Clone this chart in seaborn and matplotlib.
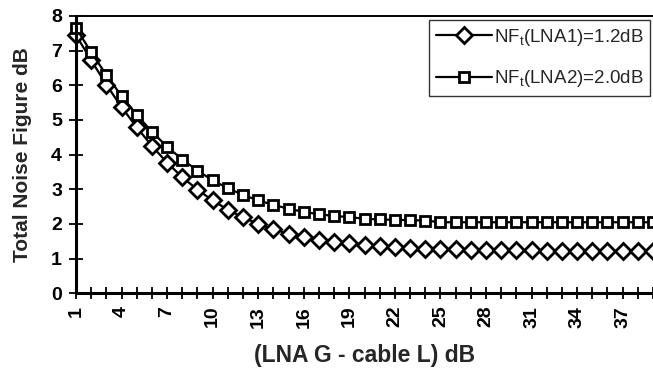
import matplotlib
matplotlib.use("Agg")
import matplotlib.pyplot as plt
from matplotlib.ticker import MultipleLocator, FixedLocator
import pandas as pd
import seaborn as sns

# ── data ─────────────────────────────────────────────────
gain_db = list(range(1, 40))   # LNA G - cable L (dB)

nf_lna1 = [7.45, 6.72, 6.02, 5.37, 4.79, 4.25, 3.77, 3.35, 2.99, 2.68,
           2.41, 2.19, 2.00, 1.85, 1.72, 1.61, 1.54, 1.49, 1.45, 1.40,
           1.37, 1.34, 1.31, 1.29, 1.28, 1.27, 1.26, 1.25, 1.25, 1.25,
           1.24, 1.23, 1.23, 1.23, 1.23, 1.22, 1.22, 1.22, 1.22]

nf_lna2 = [7.66, 6.95, 6.30, 5.69, 5.15, 4.66, 4.23, 3.86, 3.54, 3.26,
           3.03, 2.84, 2.68, 2.55, 2.44, 2.35, 2.28, 2.23, 2.20, 2.15,
           2.13, 2.12, 2.11, 2.10, 2.05, 2.05, 2.05, 2.05, 2.05, 2.05,
           2.05, 2.05, 2.05, 2.05, 2.05, 2.05, 2.05, 2.05, 2.05]

series_names = [r"NF$_\mathregular{t}$(LNA1)=1.2dB",
                r"NF$_\mathregular{t}$(LNA2)=2.0dB"]
x_labels = [str(v) for v in range(1, 38, 3)]

df = pd.DataFrame({
    "gain": gain_db * 2,
    "nf": nf_lna1 + nf_lna2,
    "series": [series_names[0]] * len(gain_db) + [series_names[1]] * len(gain_db),
})

sns.set_theme(style="white")
plt.rcParams["font.family"] = ["Liberation Sans", "DejaVu Sans"]
plt.rcParams["mathtext.default"] = "regular"

fig = plt.figure(figsize=(6.53, 3.73), dpi=100)
ax = fig.add_axes([76 / 653, 1 - 293.3 / 373, 1 - 76 / 653, (293.3 - 16) / 373])

sns.lineplot(
    data=df, x="gain", y="nf", style="series",
    markers={series_names[0]: "D", series_names[1]: "s"},
    dashes=False, color="black", linewidth=1.6,
    markersize=7.8, markerfacecolor="white", markeredgecolor="black",
    markeredgewidth=2.0, ax=ax, legend=False, clip_on=False,
)

ax.set_xlim(1, 39)
ax.set_ylim(0, 8)

# x: tick at every category, label every third
ax.xaxis.set_major_locator(FixedLocator(range(1, 38, 3)))
ax.xaxis.set_minor_locator(MultipleLocator(1))
ax.set_xticklabels(x_labels, rotation=90)
ax.yaxis.set_major_locator(MultipleLocator(1))

ax.tick_params(axis="x", which="both", direction="inout", length=8, width=1.3,
               bottom=True, pad=5, colors="black", labelsize=14)
ax.tick_params(axis="y", which="major", direction="inout", length=10, width=1.3,
               left=True, pad=5, colors="black", labelsize=14)
for lbl in ax.get_xticklabels() + ax.get_yticklabels():
    lbl.set_fontweight("bold")

for side in ["left", "bottom"]:
    ax.spines[side].set_linewidth(2.2)
    ax.spines[side].set_color("black")
ax.spines["top"].set_linewidth(1.4)
ax.spines["top"].set_color("black")
ax.spines["right"].set_visible(False)

ax.set_xlabel("(LNA G - cable L) dB", fontsize=16.5, fontweight="bold", labelpad=12)
ax.set_ylabel("Total Noise Figure dB", fontsize=15, fontweight="bold", labelpad=14)

# legend in a plain box, top right
handles = ax.get_lines()[:2]
leg = fig.legend(handles, series_names, loc="upper left",
                 bbox_to_anchor=(429 / 653, 1 - 20 / 373),
                 fontsize=13.5, frameon=True, fancybox=False,
                 handlelength=3.0, handletextpad=0.1, borderpad=0.35,
                 labelspacing=1.1, borderaxespad=0)
leg.get_frame().set_edgecolor("black")
leg.get_frame().set_linewidth(1.0)

fig.savefig("out.png", dpi=100)
